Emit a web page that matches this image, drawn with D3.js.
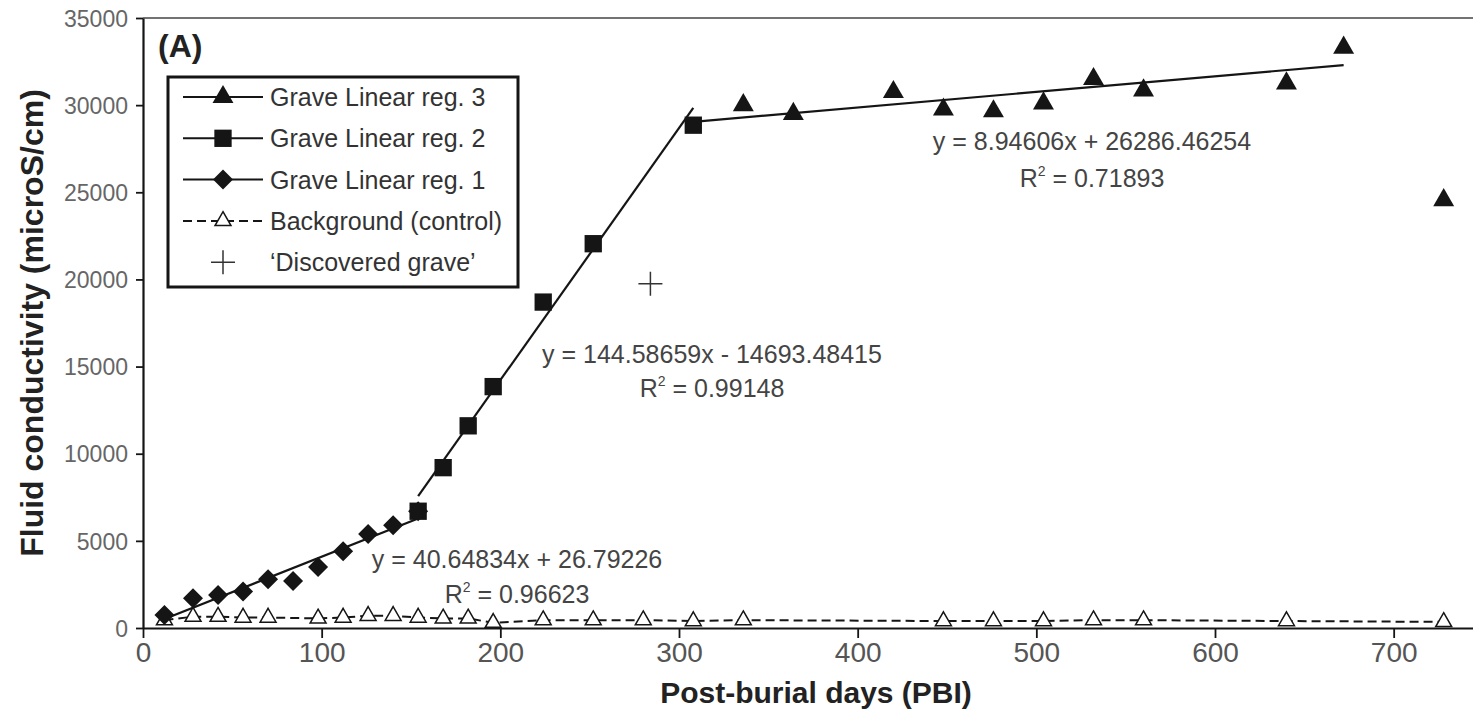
<!DOCTYPE html>
<html>
<head>
<meta charset="utf-8">
<script src="https://cdn.jsdelivr.net/npm/d3@7"></script>
<style>
  html, body { margin: 0; padding: 0; background: #fff; }
  svg { display: block; }
</style>
</head>
<body>
<div id="chart"></div>
<script>
/* ── Data ───────────────────────────────────────────────────────────── */
const reg1Days = [12, 28, 42, 56, 70, 84, 98, 112, 126, 140, 154];
const reg1Vals = [750, 1700, 1900, 2100, 2800, 2700, 3500, 4400, 5400, 5900, 6700];

const reg2Days = [154, 168, 182, 196, 224, 252, 308];
const reg2Vals = [6700, 9200, 11600, 13850, 18700, 22050, 28850];

const reg3Days = [308, 336, 364, 420, 448, 476, 504, 532, 560, 640, 672];
const reg3Vals = [28850, 30000, 29500, 30750, 29750, 29650, 30100, 31500, 30850, 31250, 33300];

const outlierDays = [728];
const outlierVals = [24550];

const bgDays = [12, 28, 42, 56, 70, 98, 112, 126, 140, 154, 168, 182, 196, 224, 252, 280, 308, 336,
                448, 476, 504, 532, 560, 640, 728];
const bgVals = [450, 650, 650, 600, 600, 550, 600, 700, 700, 600, 550, 550, 300, 450, 450, 450, 400, 450,
                400, 400, 400, 450, 450, 400, 350];

const discoveredDay = [284];
const discoveredVal = [19750];

// trend lines from the printed equations
const regs = [
  { name: 'reg1', slope: 40.64834,  icpt: 26.79226,     eq: 'y = 40.64834x + 26.79226',      r2: '0.96623' },
  { name: 'reg2', slope: 144.58659, icpt: -14693.48415, eq: 'y = 144.58659x - 14693.48415',  r2: '0.99148' },
  { name: 'reg3', slope: 8.94606,   icpt: 26286.46254,  eq: 'y = 8.94606x + 26286.46254',    r2: '0.71893' },
];

const xTicks = [0, 100, 200, 300, 400, 500, 600, 700];
const yTicks = [0, 5000, 10000, 15000, 20000, 25000, 30000, 35000];

const legendLabels = ['Grave Linear reg. 3', 'Grave Linear reg. 2', 'Grave Linear reg. 1',
                      'Background (control)', '\u2018Discovered grave\u2019'];

/* ── Layout ──────────────────────────────────────────────────────────── */
const W = 1473, H = 723;
const FONT = '"Liberation Sans", Arial, Helvetica, sans-serif';
const INK = '#151515';

const svg = d3.select('#chart').append('svg')
  .attr('width', W).attr('height', H)
  .attr('viewBox', `0 0 ${W} ${H}`);

const x = d3.scaleLinear().domain([0, 750]).range([143, 1483]);
const y = d3.scaleLinear().domain([0, 35000]).range([628, 18]);

/* ── Frame: top border ───────────────────────────────────────────────── */
svg.append('line')
  .attr('x1', x(0)).attr('x2', x(750))
  .attr('y1', y(35000)).attr('y2', y(35000))
  .attr('stroke', '#444').attr('stroke-width', 1.6);

/* ── Axes ────────────────────────────────────────────────────────────── */
const xAxis = svg.append('g')
  .attr('transform', `translate(0,${y(0)})`)
  .call(d3.axisBottom(x).tickValues(xTicks).tickSize(10).tickSizeOuter(0).tickFormat(d3.format('d')));
xAxis.select('.domain').attr('stroke', INK).attr('stroke-width', 2.2);
xAxis.selectAll('.tick line').attr('stroke', INK).attr('stroke-width', 1.8);
xAxis.selectAll('.tick text')
  .attr('y', 34).attr('dy', 0)
  .attr('fill', '#555')
  .attr('font-family', FONT).attr('font-size', 28);

const yAxis = svg.append('g')
  .attr('transform', `translate(${x(0)},0)`)
  .call(d3.axisLeft(y).tickValues(yTicks).tickSize(7).tickSizeOuter(0).tickFormat(d3.format('d')));
yAxis.select('.domain').attr('stroke', INK).attr('stroke-width', 2.2);
yAxis.selectAll('.tick line').attr('stroke', INK).attr('stroke-width', 1.8);
yAxis.selectAll('.tick text')
  .attr('x', -15).attr('dy', '0.36em')
  .attr('fill', '#666')
  .attr('font-family', FONT).attr('font-size', 23);

/* ── Axis titles ─────────────────────────────────────────────────────── */
svg.append('text')
  .attr('x', 816).attr('y', 703)
  .attr('text-anchor', 'middle')
  .attr('font-family', FONT).attr('font-weight', 'bold').attr('font-size', 30)
  .attr('fill', '#222')
  .text('Post-burial days (PBI)');

svg.append('text')
  .attr('transform', `translate(31,${(y(0) + y(35000)) / 2}) rotate(-90)`)
  .attr('text-anchor', 'middle').attr('dy', '0.36em')
  .attr('font-family', FONT).attr('font-weight', 'bold').attr('font-size', 32)
  .attr('fill', '#222')
  .text('Fluid conductivity (microS/cm)');

svg.append('text')
  .attr('x', 158).attr('y', 57)
  .attr('font-family', FONT).attr('font-weight', 'bold').attr('font-size', 32)
  .attr('fill', '#222')
  .text('(A)');

/* ── Background dashed series ────────────────────────────────────────── */
const bgPts = bgDays.map((d, i) => [d, bgVals[i]]);
svg.append('path')
  .attr('d', d3.line().x(d => x(d[0])).y(d => y(d[1]))(bgPts))
  .attr('fill', 'none').attr('stroke', INK)
  .attr('stroke-width', 2).attr('stroke-dasharray', '9,5');

/* ── Trend lines ─────────────────────────────────────────────────────── */
const regRanges = [d3.extent(reg1Days), d3.extent(reg2Days), d3.extent(reg3Days)];
regs.forEach((r, i) => {
  const [d0, d1] = regRanges[i];
  svg.append('line')
    .attr('x1', x(d0)).attr('y1', y(r.slope * d0 + r.icpt))
    .attr('x2', x(d1)).attr('y2', y(r.slope * d1 + r.icpt))
    .attr('stroke', INK).attr('stroke-width', 2.2);
});

/* ── Markers ─────────────────────────────────────────────────────────── */
const triFilled = d3.symbol().type(d3.symbolTriangle).size(190)();
const triOpen   = d3.symbol().type(d3.symbolTriangle).size(110)();
const square    = d3.symbol().type(d3.symbolSquare).size(300)();
const diamond   = d3.symbol().type(d3.symbolSquare).size(200)();
const plusPath  = 'M-12,0H12M0,-12V12';

function drawMarks(days, vals, shape, opts) {
  svg.append('g').selectAll('path')
    .data(days.map((d, i) => [d, vals[i]]))
    .join('path')
    .attr('d', shape)
    .attr('transform', d => `translate(${x(d[0])},${y(d[1])})${opts.rotate ? ' rotate(45)' : ''}`)
    .attr('fill', opts.fill)
    .attr('stroke', opts.stroke || 'none')
    .attr('stroke-width', opts.sw || 0);
}

drawMarks(bgDays, bgVals, triOpen, { fill: '#fff', stroke: INK, sw: 1.5 });
drawMarks(reg1Days, reg1Vals, diamond, { fill: INK, rotate: true });
drawMarks(reg2Days, reg2Vals, square, { fill: INK });
drawMarks(reg3Days.slice(1), reg3Vals.slice(1), triFilled, { fill: INK });
drawMarks(outlierDays, outlierVals, triFilled, { fill: INK });
drawMarks(discoveredDay, discoveredVal, plusPath, { fill: 'none', stroke: '#333', sw: 1.5 });

/* ── Equation annotations ────────────────────────────────────────────── */
const eqPos = [
  { cx: 517, y1: 568, y2: 603 },
  { cx: 712, y1: 363, y2: 397 },
  { cx: 1092, y1: 150, y2: 187 },
];
regs.forEach((r, i) => {
  const p = eqPos[i];
  svg.append('text')
    .attr('x', p.cx).attr('y', p.y1)
    .attr('text-anchor', 'middle')
    .attr('font-family', FONT).attr('font-size', 25).attr('fill', '#444')
    .text(r.eq);
  const t = svg.append('text')
    .attr('x', p.cx).attr('y', p.y2)
    .attr('text-anchor', 'middle')
    .attr('font-family', FONT).attr('font-size', 25).attr('fill', '#444');
  t.append('tspan').text('R');
  t.append('tspan').attr('font-size', 14).attr('dy', -11).text('2');
  t.append('tspan').attr('dy', 11).text(' = ' + r.r2);
});

/* ── Legend ──────────────────────────────────────────────────────────── */
const lg = svg.append('g');
lg.append('rect')
  .attr('x', 168).attr('y', 77).attr('width', 350).attr('height', 210)
  .attr('fill', '#fff').attr('stroke', INK).attr('stroke-width', 3);

const legendShapes = [
  { shape: triFilled, fill: INK, line: true },
  { shape: square, fill: INK, line: true },
  { shape: diamond, fill: INK, line: true, rotate: true },
  { shape: triOpen, fill: '#fff', stroke: INK, sw: 1.5, line: true, dash: '9,5' },
  { shape: plusPath, fill: 'none', stroke: '#333', sw: 1.5, line: false },
];
legendLabels.forEach((label, i) => {
  const ly = 97 + i * 41.3;
  const s = legendShapes[i];
  if (s.line) {
    lg.append('line')
      .attr('x1', 183).attr('x2', 263).attr('y1', ly).attr('y2', ly)
      .attr('stroke', INK).attr('stroke-width', 2)
      .attr('stroke-dasharray', s.dash || null);
  }
  lg.append('path')
    .attr('d', s.shape)
    .attr('transform', `translate(223,${ly})${s.rotate ? ' rotate(45)' : ''}`)
    .attr('fill', s.fill).attr('stroke', s.stroke || 'none').attr('stroke-width', s.sw || 0);
  lg.append('text')
    .attr('x', 270).attr('y', ly).attr('dy', '0.36em')
    .attr('font-family', FONT).attr('font-size', 25).attr('fill', '#333')
    .text(label);
});
</script>
</body>
</html>
